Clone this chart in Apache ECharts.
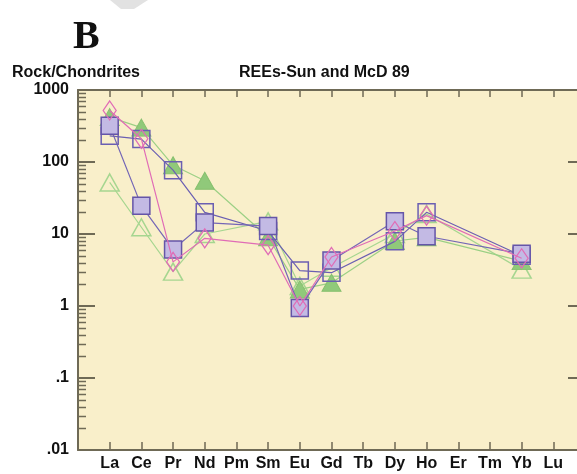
<!DOCTYPE html>
<html>
<head>
<meta charset="utf-8">
<script src="https://cdn.jsdelivr.net/npm/echarts@6/dist/echarts.min.js"></script>
<style>
  html, body { margin: 0; padding: 0; background: #ffffff; }
  #chart { width: 577px; height: 474px; }
</style>
</head>
<body>
<div id="chart"></div>
<script>
// Categories (rare earth elements, chondrite-normalised after Sun & McDonough 1989)
const elements = ['La', 'Ce', 'Pr', 'Nd', 'Pm', 'Sm', 'Eu', 'Gd', 'Tb', 'Dy', 'Ho', 'Er', 'Tm', 'Yb', 'Lu'];

// Series values (Rock/Chondrites), null = not analysed
const filledSquares   = [318, 24.6, 6.1, 14.4, null, 12.9, 0.94, 4.3, null, 15, 9.3, null, null, 5.3, null];
const openSquares     = [231, 208, 77, 20, null, 11, 3.1, 2.9, null, 7.9, 20, null, null, 5.0, null];
const filledTriangles = [420, 300, 90, 55, null, 9, 1.7, 2.1, null, 8, 9, null, null, 4.2, null];
const openTriangles   = [52, 12.4, 3.0, 10, null, 15, 1.9, 3.4, null, 10, 19, null, null, 3.2, null];
const openDiamonds    = [520, 210, 4.1, 8.7, null, 7, 1.0, 4.8, null, 11, 18, null, null, 4.6, null];

// Axis tick labels
const yTickLabels = ['.01', '.1', '1', '10', '100', '1000'];
const minorTickValues = [];
[0.01, 0.1, 1, 10, 100].forEach(function (d) {
  for (let k = 2; k <= 9; k++) minorTickValues.push(d * k);
});

const axisColor = '#6f6a56';
const plotBg = '#F9EFCA';

function toPairs(vals) {
  const out = [];
  vals.forEach(function (v, i) { if (v !== null) out.push([i + 1, v]); });
  return out;
}

const chart = echarts.init(document.getElementById('chart'), null, { renderer: 'canvas' });

const option = {
  animation: false,
  backgroundColor: '#ffffff',
  grid: {
    left: 78, top: 90, width: 507, bottom: 24,
    outerBoundsMode: 'none',
    containLabel: false,
    show: true, backgroundColor: plotBg, borderWidth: 0
  },
  graphic: [
    { type: 'polygon', shape: { points: [[110, 0], [148, 0], [134, 9], [121, 9]] },
      style: { fill: '#e2e2e2' }, z: 0 },
    { type: 'text', left: 73, top: 18,
      style: { text: 'B', font: 'bold 40px "Liberation Serif", "Times New Roman", serif', fill: '#111111' } },
    { type: 'text', left: 12, top: 65,
      style: { text: 'Rock/Chondrites', font: 'bold 16px "Liberation Sans", Arial, sans-serif', fill: '#111111' } },
    { type: 'text', left: 239, top: 65,
      style: { text: 'REEs-Sun and McD 89', font: 'bold 16px "Liberation Sans", Arial, sans-serif', fill: '#111111' } }
  ],
  xAxis: [
    {
      type: 'value', min: 0, max: 16, interval: 1, position: 'bottom',
      axisLine: { show: true, onZero: false, lineStyle: { color: axisColor, width: 2 } },
      axisTick: { show: true, inside: true, length: 8, lineStyle: { color: axisColor, width: 1.5 } },
      splitLine: { show: false },
      axisLabel: {
        margin: 6,
        color: '#111111',
        fontFamily: '"Liberation Sans", Arial, sans-serif',
        fontWeight: 'bold',
        fontSize: 16,
        formatter: function (v) {
          const i = Math.round(v) - 1;
          return (i >= 0 && i < elements.length) ? elements[i] : '';
        }
      }
    },
    {
      type: 'value', min: 0, max: 16, interval: 1, position: 'top',
      axisLine: { show: true, onZero: false, lineStyle: { color: axisColor, width: 2 } },
      axisTick: { show: true, inside: true, length: 7, lineStyle: { color: axisColor, width: 1.5 } },
      splitLine: { show: false },
      axisLabel: { show: false }
    }
  ],
  yAxis: [
    {
      type: 'log', logBase: 10, min: 0.01, max: 1000, position: 'left',
      axisLine: { show: true, onZero: false, lineStyle: { color: axisColor, width: 2 } },
      axisTick: { show: true, inside: true, length: 17, lineStyle: { color: axisColor, width: 2 } },
      splitLine: { show: false },
      minorTick: { show: false },
      axisLabel: {
        margin: 9,
        color: '#111111',
        fontFamily: '"Liberation Sans", Arial, sans-serif',
        fontWeight: 'bold',
        fontSize: 16,
        formatter: function (v) {
          const idx = Math.round(Math.log10(v)) + 2;
          return yTickLabels[idx] || '';
        }
      }
    },
    {
      type: 'log', logBase: 10, min: 0.01, max: 1000, position: 'right',
      axisLine: { show: true, onZero: false, lineStyle: { color: axisColor, width: 2 } },
      axisTick: { show: true, inside: true, length: 17, lineStyle: { color: axisColor, width: 2 } },
      splitLine: { show: false },
      axisLabel: { show: false }
    }
  ],
  series: [
    {
      type: 'custom', name: 'minorTicks', silent: true, z: 1,
      xAxisIndex: 0, yAxisIndex: 0,
      data: minorTickValues.map(function (v) { return [0, v]; }),
      renderItem: function (params, api) {
        const p = api.coord([0, api.value(1)]);
        return {
          type: 'line',
          shape: { x1: p[0], y1: Math.round(p[1]) + 0.5, x2: p[0] + 8, y2: Math.round(p[1]) + 0.5 },
          style: { stroke: axisColor, lineWidth: 1.5 }
        };
      }
    },
    {
      type: 'line', name: 'open triangles', z: 2,
      data: toPairs(openTriangles), connectNulls: true,
      symbol: 'triangle', symbolSize: [19, 17],
      itemStyle: { color: 'rgba(0,0,0,0)', borderColor: '#a6d690', borderWidth: 1.5 },
      lineStyle: { color: '#a6d690', width: 1.2 }
    },
    {
      type: 'line', name: 'filled triangles', z: 3,
      data: toPairs(filledTriangles), connectNulls: true,
      symbol: 'triangle', symbolSize: [19, 17],
      itemStyle: { color: '#90c97a', borderColor: '#86c06e', borderWidth: 1 },
      lineStyle: { color: '#9cd085', width: 1.2 }
    },
    {
      type: 'line', name: 'open squares', z: 4,
      data: toPairs(openSquares), connectNulls: true,
      symbol: 'rect', symbolSize: 17,
      itemStyle: { color: 'rgba(0,0,0,0)', borderColor: '#6b5fb2', borderWidth: 1.5 },
      lineStyle: { color: '#6b5fb2', width: 1.2 }
    },
    {
      type: 'line', name: 'filled squares', z: 5,
      data: toPairs(filledSquares), connectNulls: true,
      symbol: 'rect', symbolSize: 17,
      itemStyle: { color: '#c3bae4', borderColor: '#6555a8', borderWidth: 1.5 },
      lineStyle: { color: '#7466b6', width: 1.2 }
    },
    {
      type: 'line', name: 'open diamonds', z: 6,
      data: toPairs(openDiamonds), connectNulls: true,
      symbol: 'diamond', symbolSize: [13, 19],
      itemStyle: { color: 'rgba(0,0,0,0)', borderColor: '#e06cb6', borderWidth: 1.3 },
      lineStyle: { color: '#e06cb6', width: 1.2 }
    }
  ]
};

chart.setOption(option);
</script>
</body>
</html>
